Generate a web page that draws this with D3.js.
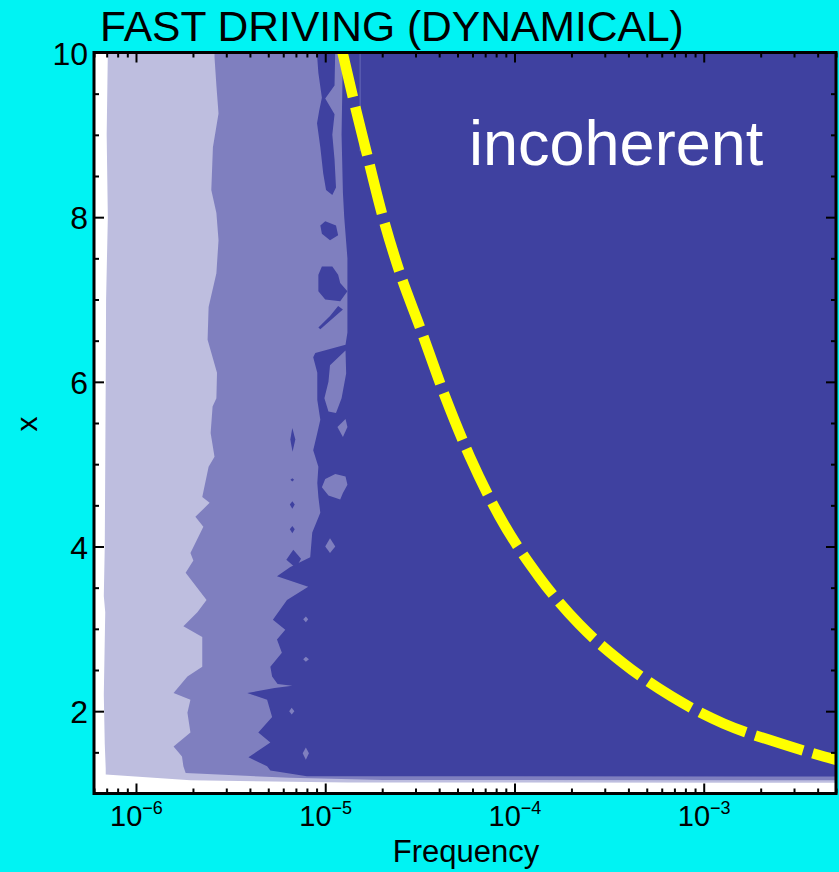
<!DOCTYPE html>
<html><head><meta charset="utf-8">
<script src="https://cdn.jsdelivr.net/npm/d3@7"></script>
<style>
html,body{margin:0;padding:0;background:#00F3F3;}
svg{display:block;}
text{font-family:"Liberation Sans",Arial,Helvetica,sans-serif;fill:#000;}
</style></head><body>
<svg id="chart" width="839" height="872"></svg>
<script>
// ---------------- data ----------------
const title = "FAST DRIVING (DYNAMICAL)";
const xAxisLabel = "Frequency";
const yAxisLabel = "x";
const regionLabel = "incoherent";
const freqDomain = [6e-7, 5e-3];
const xDomain = [1, 10];
const freqMajorTicks = [1e-6, 1e-5, 1e-4, 1e-3];
const freqTickBase = "10";
const freqTickExponents = ["\u22126", "\u22125", "\u22124", "\u22123"];
const yMajorTicks = [2, 4, 6, 8, 10];
const yMinorTicks = [1.5, 2.5, 3, 3.5, 4.5, 5, 5.5, 6.5, 7, 7.5, 8.5, 9, 9.5];
const levelColors = ["#BEBEDF", "#7F7FBF", "#3F41A0"];

// contour boundaries, points are [x, frequency]
const edgeLight = [[10,7.1e-7],[9.0,7.0e-7],[8.0,7.1e-7],[7.0,6.95e-7],[6.0,6.92e-7],[5.0,6.88e-7],
  [4.0,6.84e-7],[3.4,6.76e-7],[3.2,6.88e-7],[2.2,6.76e-7],[1.6,6.84e-7],[1.3,6.92e-7],[1.23,6.92e-7]];
const bottomLight = [[1.23,6.92e-7],[1.16,1.94e-6],[1.135,1.31e-5],[1.13,5e-3]];

const edgeMed = [[10,2.60e-6],[9.94,2.60e-6],[9.6,2.66e-6],[9.26,2.73e-6],[8.85,2.55e-6],[8.33,2.50e-6],
  [8.05,2.66e-6],[7.72,2.73e-6],[7.32,2.66e-6],[6.91,2.42e-6],[6.51,2.39e-6],[6.11,2.68e-6],[5.80,2.66e-6],
  [5.70,2.54e-6],[5.38,2.48e-6],[5.09,2.60e-6],[4.97,2.42e-6],[4.60,2.24e-6],[4.53,2.45e-6],[4.36,2.06e-6],
  [4.24,2.27e-6],[3.92,1.94e-6],[3.83,2.01e-6],[3.68,1.83e-6],[3.35,2.36e-6],[3.20,2.11e-6],[3.03,1.78e-6],
  [2.90,2.24e-6],[2.54,2.24e-6],[2.42,1.87e-6],[2.22,1.58e-6],[2.14,1.94e-6],[1.98,1.87e-6],[1.74,1.94e-6],
  [1.57,1.58e-6],[1.45,1.75e-6],[1.33,1.78e-6],[1.25,1.83e-6]];
const bottomMed = [[1.25,1.83e-6],[1.19,6.5e-6],[1.165,2e-5],[1.16,5e-3]];

const edgeDark = [[10,1.24e-5],[9.0,1.22e-5],[8.3,1.24e-5],[8.0,1.26e-5],[7.5,1.31e-5],[6.6,1.31e-5],
  [6.45,1.28e-5],[6.35,8.86e-6],[6.30,8.64e-6],[6.11,9.08e-6],[5.78,9.08e-6],[5.54,9.42e-6],[5.38,9.08e-6],
  [5.17,8.64e-6],[4.97,9.2e-6],[4.77,9.08e-6],[4.60,9.2e-6],[4.41,9.42e-6],[4.17,8.54e-6],[3.87,8.33e-6],
  [3.75,6.54e-6],[3.64,5.56e-6],[3.51,8.13e-6],[3.35,6.28e-6],[3.11,5.29e-6],[2.99,6.15e-6],[2.87,5.56e-6],
  [2.71,5.9e-6],[2.54,5.13e-6],[2.42,5.24e-6],[2.33,5.6e-6],[2.31,6.7e-6],[2.28,5.4e-6],[2.22,3.87e-6],
  [2.14,4.93e-6],[1.93,5.24e-6],[1.74,4.43e-6],[1.62,5.13e-6],[1.44,3.93e-6],[1.33,4.93e-6],[1.28,5.13e-6]];
const bottomDark = [[1.28,5.13e-6],[1.21,8e-6],[1.205,5e-3]];

// dark islands inside the medium level
const darkIslands = [
  [[10.05,9.0e-6],[9.75,9.2e-6],[9.45,9.6e-6],[9.3,9.3e-6],[9.14,9.05e-6],[8.85,9.42e-6],[8.53,9.76e-6],
   [8.33,1.01e-5],[8.27,1.09e-5],[8.36,1.14e-5],[8.7,1.12e-5],[9.0,1.09e-5],[9.25,1.12e-5],[9.44,1.0e-5],
   [9.6,1.12e-5],[10.05,1.13e-5]],
  [[7.95,1.0e-5],[7.9,9.42e-6],[7.8,9.6e-6],[7.72,1.06e-5],[7.78,1.17e-5],[7.9,1.14e-5]],
  [[7.40,9.6e-6],[7.30,9.2e-6],[7.1,9.2e-6],[7.0,1.0e-5],[6.98,1.2e-5],[7.1,1.31e-5],[7.2,1.2e-5],
   [7.3,1.17e-5],[7.4,1.09e-5]],
  [[6.92,1.17e-5],[6.88,1.24e-5],[6.7,1.01e-5],[6.64,9.42e-6],[6.66,9.2e-6],[6.8,1.06e-5]],
  [[5.44,6.7e-6],[5.3,6.95e-6],[5.15,6.72e-6],[5.3,6.54e-6]],
  [[4.83,6.7e-6],[4.81,6.85e-6],[4.79,6.7e-6],[4.81,6.55e-6]],
  [[4.55,6.7e-6],[4.51,6.9e-6],[4.46,6.7e-6],[4.51,6.5e-6]],
  [[4.25,6.7e-6],[4.21,6.9e-6],[4.16,6.7e-6],[4.21,6.5e-6]],
  [[3.96,6.78e-6],[3.85,7.45e-6],[3.74,7.0e-6],[3.84,6.23e-6]]
];
// medium pockets inside the dark level
const medIslands = [
  [[6.38,1.28e-5],[6.2,1.06e-5],[6.0,1.04e-5],[5.8,9.9e-6],[5.64,1.04e-5],[5.62,1.14e-5],[5.8,1.22e-5],[6.1,1.29e-5]],
  [[5.55,1.28e-5],[5.45,1.16e-5],[5.33,1.24e-5],[5.45,1.31e-5]],
  [[4.88,1.13e-5],[4.85,1.28e-5],[4.75,1.31e-5],[4.65,1.24e-5],[4.57,1.2e-5],[4.62,1.04e-5],[4.72,9.6e-6],[4.82,1.0e-5]],
  [[4.1,1.06e-5],[4.0,1.13e-5],[3.92,1.06e-5],[4.0,1.0e-5]],
  [[3.15,7.9e-6],[3.115,8.13e-6],[3.08,7.9e-6],[3.115,7.65e-6]],
  [[2.66,7.9e-6],[2.63,8.2e-6],[2.60,7.9e-6],[2.63,7.65e-6]],
  [[2.04,6.65e-6],[2.0,6.87e-6],[1.96,6.65e-6],[2.0,6.45e-6]],
  [[1.56,7.9e-6],[1.49,8.2e-6],[1.41,7.9e-6],[1.49,7.6e-6]]
];
const faintStreak = [[10,1.53e-5],[8.8,1.53e-5]];

// yellow dashed boundary, [x, frequency]
const boundaryCurve = [[10.05,1.22e-5],[9.46,1.40e-5],[8.77,1.66e-5],[8.05,1.99e-5],[7.36,2.45e-5],
  [6.66,3.17e-5],[5.82,4.3e-5],[5.09,5.81e-5],[4.36,8.36e-5],[3.62,1.36e-4],[3.05,2.21e-4],[2.59,3.72e-4],
  [2.18,6.74e-4],[1.85,1.27e-3],[1.61,2.53e-3],[1.45,4.31e-3],[1.40,5.2e-3]];

// ---------------- drawing ----------------
const svg = d3.select("#chart");
const M = {left: 94, right: 836, top: 52.5, bottom: 793.5};
const X = d3.scaleLog().domain(freqDomain).range([M.left, M.right]);
const Y = d3.scaleLinear().domain(xDomain).range([M.bottom, M.top]);

svg.append("defs").append("clipPath").attr("id","plotclip")
  .append("rect").attr("x",M.left).attr("y",M.top).attr("width",M.right-M.left).attr("height",M.bottom-M.top);

svg.append("rect").attr("x",M.left).attr("y",M.top).attr("width",M.right-M.left).attr("height",M.bottom-M.top)
  .attr("fill","#fff");

const plot = svg.append("g").attr("clip-path","url(#plotclip)");
const line = d3.line().x(d => X(d[1])).y(d => Y(d[0]));
const smoothLine = d3.line().x(d => X(d[1])).y(d => Y(d[0])).curve(d3.curveMonotoneX);
const corner = [xDomain[1] + 0.3, freqDomain[1] * 1.5];

function region(edge, bottom){
  return edge.concat(bottom.slice(1), [[bottom[bottom.length-1][0], corner[1]], corner]);
}
const levels = [region(edgeLight,bottomLight), region(edgeMed,bottomMed), region(edgeDark,bottomDark)];
plot.selectAll("path.level").data(levels).join("path").attr("class","level")
  .attr("d", d => line(d) + "Z").attr("fill", (d,i) => levelColors[i]);

plot.selectAll("path.dk").data(darkIslands).join("path").attr("class","dk")
  .attr("d", d => line(d) + "Z").attr("fill", levelColors[2]);
plot.selectAll("path.md").data(medIslands).join("path").attr("class","md")
  .attr("d", d => line(d) + "Z").attr("fill", levelColors[1]);
plot.append("path").attr("d", line(faintStreak)).attr("stroke","#5A5CB0").attr("stroke-width",1.5).attr("fill","none");

plot.append("path").attr("d", smoothLine(boundaryCurve))
  .attr("fill","none").attr("stroke","#FFFF00").attr("stroke-width",10.5)
  .attr("stroke-dasharray","50,10");

plot.append("text").attr("x", 469).attr("y", 165).attr("font-size", 63)
  .style("fill","#fff").text(regionLabel);

// axes
const xMinor = X.ticks().filter(t => Math.abs(Math.log10(t) - Math.round(Math.log10(t))) > 1e-6);
function styleAxis(g){
  g.select(".domain").remove();
  g.selectAll(".tick line").attr("stroke","#000").attr("stroke-width",2);
}
svg.append("g").attr("transform",`translate(0,${M.bottom})`)
  .call(d3.axisBottom(X).tickValues(xMinor).tickSize(-5).tickFormat("")).call(styleAxis);
svg.append("g").attr("transform",`translate(0,${M.top})`)
  .call(d3.axisTop(X).tickValues(xMinor).tickSize(-5).tickFormat("")).call(styleAxis);
svg.append("g").attr("transform",`translate(0,${M.top})`)
  .call(d3.axisTop(X).tickValues(freqMajorTicks).tickSize(-10).tickFormat("")).call(styleAxis);
const gxMaj = svg.append("g").attr("transform",`translate(0,${M.bottom})`)
  .call(d3.axisBottom(X).tickValues(freqMajorTicks).tickSize(-10).tickFormat("")).call(styleAxis);
gxMaj.selectAll(".tick text").remove();
gxMaj.selectAll(".tick").each(function(d,i){
  const t = d3.select(this).append("text").attr("text-anchor","middle").attr("y", 32.5)
    .attr("font-size", 29).style("fill","#000");
  t.append("tspan").text(freqTickBase);
  t.append("tspan").attr("font-size", 18).attr("dy", -12.5).text(freqTickExponents[i]);
});

svg.append("g").attr("transform",`translate(${M.left},0)`)
  .call(d3.axisLeft(Y).tickValues(yMinorTicks).tickSize(-5).tickFormat("")).call(styleAxis);
svg.append("g").attr("transform",`translate(${M.right},0)`)
  .call(d3.axisRight(Y).tickValues(yMinorTicks).tickSize(-5).tickFormat("")).call(styleAxis);
svg.append("g").attr("transform",`translate(${M.right},0)`)
  .call(d3.axisRight(Y).tickValues(yMajorTicks).tickSize(-10).tickFormat("")).call(styleAxis);
const gyMaj = svg.append("g").attr("transform",`translate(${M.left},0)`)
  .call(d3.axisLeft(Y).tickValues(yMajorTicks).tickSize(-10).tickPadding(6).tickFormat(d3.format("d")))
  .call(styleAxis);
gyMaj.attr("font-size", 32).attr("font-family", null);
gyMaj.selectAll(".tick text").style("fill","#000").attr("dy","0.36em");

// frame
svg.append("rect").attr("x",M.left).attr("y",M.top).attr("width",M.right-M.left).attr("height",M.bottom-M.top)
  .attr("fill","none").attr("stroke","#000").attr("stroke-width",3);

// labels
svg.append("text").attr("x", 100).attr("y", 41).attr("font-size", 42.6).text(title);
svg.append("text").attr("x", 466).attr("y", 862).attr("text-anchor","middle")
  .attr("font-size", 31).text(xAxisLabel);
svg.append("text").attr("transform","translate(37,424) rotate(-90)").attr("text-anchor","middle")
  .attr("font-size", 30).text(yAxisLabel);
</script>
</body></html>
